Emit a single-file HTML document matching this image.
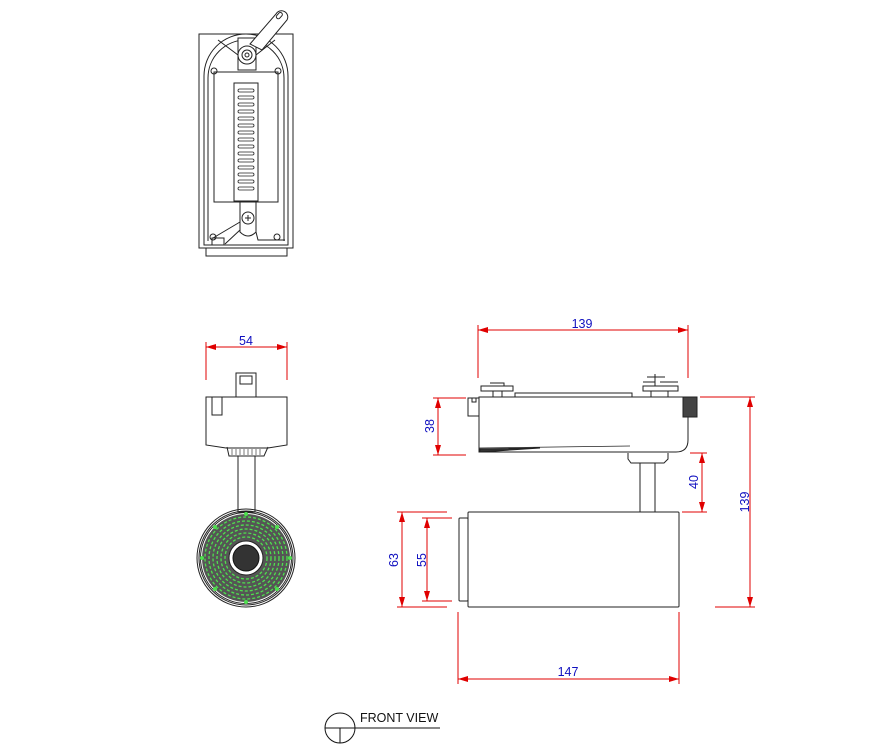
<!DOCTYPE html>
<html><head><meta charset="utf-8"><style>
html,body{margin:0;padding:0;background:#fff;}
svg{display:block;}
text{font-family:"Liberation Sans",sans-serif;font-size:12.5px;fill:#1010c0;}
</style></head><body>
<svg width="870" height="755" viewBox="0 0 870 755" xmlns="http://www.w3.org/2000/svg">
<defs>
<marker id="a" viewBox="0 0 10 6" refX="10" refY="3" markerWidth="10" markerHeight="6" orient="auto-start-reverse" markerUnits="userSpaceOnUse"><path d="M0,0L10,3L0,6z" fill="#e00000"/></marker>
</defs>
<g fill="none" stroke="#222" stroke-width="1">
<!-- TOP VIEW -->
<rect x="199" y="34" width="94" height="214"/>
<rect x="206" y="248" width="81" height="8"/>
<path d="M204,245 V76 A42,42 0 0 1 288,76 V245 Z"/>
<path d="M208,241 V78 A38,38 0 0 1 284,78 V241"/>
<rect x="214" y="72" width="64" height="130"/>
<rect x="234" y="83" width="24" height="118"/>
<g stroke-width="0.8">
<rect x="238" y="89" width="16" height="3" rx="1.5"/><rect x="238" y="96" width="16" height="3" rx="1.5"/><rect x="238" y="103" width="16" height="3" rx="1.5"/><rect x="238" y="110" width="16" height="3" rx="1.5"/><rect x="238" y="117" width="16" height="3" rx="1.5"/><rect x="238" y="124" width="16" height="3" rx="1.5"/><rect x="238" y="131" width="16" height="3" rx="1.5"/><rect x="238" y="138" width="16" height="3" rx="1.5"/><rect x="238" y="145" width="16" height="3" rx="1.5"/><rect x="238" y="152" width="16" height="3" rx="1.5"/><rect x="238" y="159" width="16" height="3" rx="1.5"/><rect x="238" y="166" width="16" height="3" rx="1.5"/><rect x="238" y="173" width="16" height="3" rx="1.5"/><rect x="238" y="180" width="16" height="3" rx="1.5"/><rect x="238" y="187" width="16" height="3" rx="1.5"/>
</g>
<path d="M238,38 H256 V70 H238 Z" fill="#fff"/>
<path d="M250,44 L276,14 A6,6 0 0 1 287,20 L262,50 Z" fill="#fff"/>
<rect x="276" y="14" width="7" height="4" rx="2" transform="rotate(-48 279 16)"/>
<circle cx="247" cy="55" r="9" fill="#fff"/><circle cx="247" cy="55" r="5"/><circle cx="247" cy="55" r="2"/>
<path d="M218,40 L238,55 M275,40 L256,55"/>
<circle cx="214" cy="71" r="3"/><circle cx="278" cy="71" r="3"/>
<circle cx="213" cy="237" r="3"/><circle cx="277" cy="237" r="3"/>
<path d="M240,202 H256 V232 Q248,240 240,232 Z"/>
<circle cx="248" cy="218" r="6"/><path d="M245,218 H251 M248,215 V221"/>
<path d="M240,222 L213,238 M240,230 L225,244 M256,232 L258,240 H285"/>
<rect x="212" y="238" width="12" height="7"/>
<!-- FRONT VIEW (middle left) -->
<rect x="236" y="373" width="20" height="24"/>
<rect x="240" y="376" width="12" height="8"/>
<path d="M206,397 H287 V445 L268,448 H226 L206,445 Z"/>
<path d="M212,397 V415 H222 V397"/>
<path d="M227,447 L229,456 H264 L268,447"/>
<path d="M232,449 V455 M236,449 V455 M240,449 V455 M244,449 V455 M248,449 V455 M252,449 V455 M256,449 V455 M260,449 V455" stroke-width="0.6"/>
<rect x="238" y="456" width="17" height="56"/>
<circle cx="246" cy="558" r="49"/><circle cx="246" cy="558" r="47"/><circle cx="246" cy="558" r="45.5"/>
</g>
<circle cx="246" cy="558" r="44" fill="#555"/>
<g fill="none" stroke="#4ee04e" stroke-width="1.3" stroke-dasharray="3 2">
<circle cx="246" cy="558" r="41"/><circle cx="246" cy="558" r="37"/><circle cx="246" cy="558" r="33"/><circle cx="246" cy="558" r="29"/><circle cx="246" cy="558" r="25"/><circle cx="246" cy="558" r="21"/>
</g>
<circle cx="246" cy="558" r="17" fill="#fff" stroke="#222"/>
<circle cx="246" cy="558" r="13" fill="#333" stroke="#111"/>
<g fill="#4ee04e"><circle cx="246" cy="514" r="2"/><circle cx="246" cy="602" r="2"/><circle cx="202" cy="558" r="2"/><circle cx="290" cy="558" r="2"/><circle cx="215" cy="527" r="2"/><circle cx="277" cy="527" r="2"/><circle cx="215" cy="589" r="2"/><circle cx="277" cy="589" r="2"/></g>
<!-- SIDE VIEW -->
<g fill="none" stroke="#222" stroke-width="1">
<path d="M479,397 H688 V440 Q688,452 676,452 H630 L479,452 Z"/>
<path d="M479,448 L630,446" stroke-width="0.7"/>
<path d="M480,452 L540,448 L480,449 Z" fill="#333"/>
<rect x="468" y="398" width="11" height="18"/>
<rect x="472" y="398" width="4" height="4"/>
<rect x="683" y="397" width="14" height="20" fill="#444"/>
<rect x="515" y="393" width="117" height="4"/>
<path d="M481,386 H513 V391 H481 Z M490,383 H504 V386 M493,391 V397 M502,391 V397"/>
<path d="M643,386 H678 V391 H643 Z M651,391 V397 M668,391 V397 M647,377 H665 M643,382 H655 M660,382 H678 M655,374 V386"/>
<path d="M628,453 V459 L631,463 H664 L668,459 V453"/>
<rect x="640" y="463" width="15" height="49"/>
<rect x="468" y="512" width="211" height="95" rx="1"/>
<rect x="459" y="518" width="9" height="83" rx="1"/>
</g>
<!-- DIMENSIONS -->
<g stroke="#e00000" stroke-width="1" fill="none">
<path d="M206,342 V380 M287,342 V380"/>
<line x1="206" y1="347" x2="287" y2="347" marker-start="url(#a)" marker-end="url(#a)"/>
<path d="M478,325 V378 M688,325 V378"/>
<line x1="478" y1="330" x2="688" y2="330" marker-start="url(#a)" marker-end="url(#a)"/>
<path d="M433,398 H466 M433,455 H466"/>
<line x1="438" y1="398" x2="438" y2="455" marker-start="url(#a)" marker-end="url(#a)"/>
<path d="M690,453 H707 M682,512 H707"/>
<line x1="702" y1="453" x2="702" y2="512" marker-start="url(#a)" marker-end="url(#a)"/>
<path d="M700,397 H755 M715,607 H755"/>
<line x1="750" y1="397" x2="750" y2="607" marker-start="url(#a)" marker-end="url(#a)"/>
<path d="M397,512 H447 M397,607 H447"/>
<line x1="402" y1="512" x2="402" y2="607" marker-start="url(#a)" marker-end="url(#a)"/>
<path d="M422,518 H452 M422,601 H452"/>
<line x1="427" y1="518" x2="427" y2="601" marker-start="url(#a)" marker-end="url(#a)"/>
<path d="M458,612 V684 M679,612 V684"/>
<line x1="458" y1="679" x2="679" y2="679" marker-start="url(#a)" marker-end="url(#a)"/>
</g>
<text x="246" y="345" text-anchor="middle">54</text>
<text x="582" y="328" text-anchor="middle">139</text>
<text x="568" y="676" text-anchor="middle">147</text>
<text transform="translate(434,426) rotate(-90)" text-anchor="middle">38</text>
<text transform="translate(698,482) rotate(-90)" text-anchor="middle">40</text>
<text transform="translate(749,502) rotate(-90)" text-anchor="middle">139</text>
<text transform="translate(398,560) rotate(-90)" text-anchor="middle">63</text>
<text transform="translate(426,560) rotate(-90)" text-anchor="middle">55</text>
<!-- label -->
<g fill="none" stroke="#111" stroke-width="1">
<circle cx="340" cy="728" r="15"/>
<path d="M325,728 H440 M340,728 V743"/>
</g>
<text x="360" y="722" style="fill:#111;font-size:12.5px">FRONT VIEW</text>
</svg>
</body></html>
